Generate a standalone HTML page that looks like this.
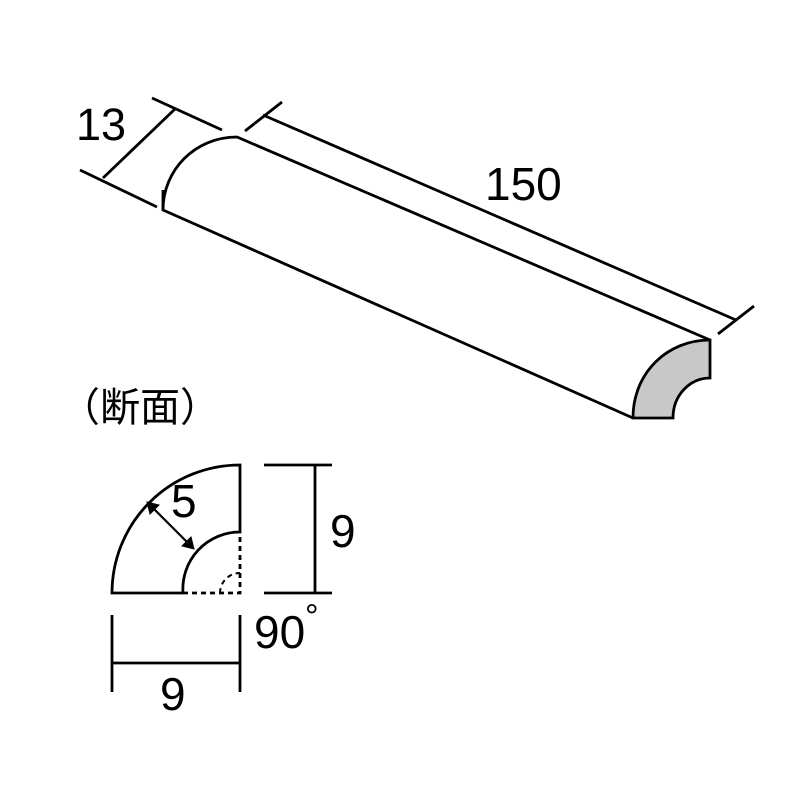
<!DOCTYPE html>
<html><head><style>body{margin:0;background:#fff}svg{display:block}</style></head><body>
<svg width="800" height="800" viewBox="0 0 800 800" xmlns="http://www.w3.org/2000/svg">
<g fill="none" stroke="#000" stroke-width="2.8" stroke-linecap="butt">
<path d="M163,210 C163,170 195,137 237,137 L710,340"/>
<path d="M163,190 L163,210 L633,418"/>
<path d="M633,418 C633,372 668,340 710,340 L710,378 C690,378 673,395 673,418 Z" fill="#c8c8c8"/>
<line x1="152" y1="98" x2="222" y2="130"/>
<line x1="80" y1="170" x2="157" y2="207"/>
<line x1="175" y1="109" x2="103" y2="178"/>
<line x1="245" y1="131" x2="282" y2="102"/>
<line x1="718" y1="334" x2="754" y2="306"/>
<line x1="263" y1="115" x2="736" y2="320"/>
<path d="M112,593 A128,128 0 0 1 240,465 L240,532 A57,57 0 0 0 183,593 Z"/>
<path d="M183,593 L240,593 L240,532" stroke-dasharray="5,4"/>
<path d="M220,593 A20,20 0 0 1 240,573" stroke-dasharray="5,4" stroke-width="2"/>
<line x1="152" y1="507" x2="189" y2="544" stroke-width="2.2"/>
<path d="M147,502 l3,12 l9,-9 Z M194,549 l-3,-12 l-9,9 Z" fill="#000" stroke-width="1"/>
<line x1="264" y1="465" x2="332" y2="465"/>
<line x1="264" y1="593" x2="332" y2="593"/>
<line x1="315" y1="465" x2="315" y2="593"/>
<line x1="112" y1="615" x2="112" y2="692"/>
<line x1="240" y1="615" x2="240" y2="692"/>
<line x1="112" y1="663" x2="240" y2="663"/>
</g>
<g font-family="Liberation Sans, sans-serif" fill="#000">
<text x="76" y="140" font-size="45">13</text>
<text x="485" y="200" font-size="46">150</text>
<text x="171" y="517" font-size="46">5</text>
<text x="330" y="547" font-size="46">9</text>
<text x="254" y="648" font-size="46">90</text>
<text x="305" y="628" font-size="34">°</text>
<text x="160" y="710" font-size="46">9</text>
<text x="60" y="421" font-size="40" font-family="Liberation Sans, Noto Sans CJK JP, sans-serif">（断面）</text>
</g>
</svg>
</body></html>
